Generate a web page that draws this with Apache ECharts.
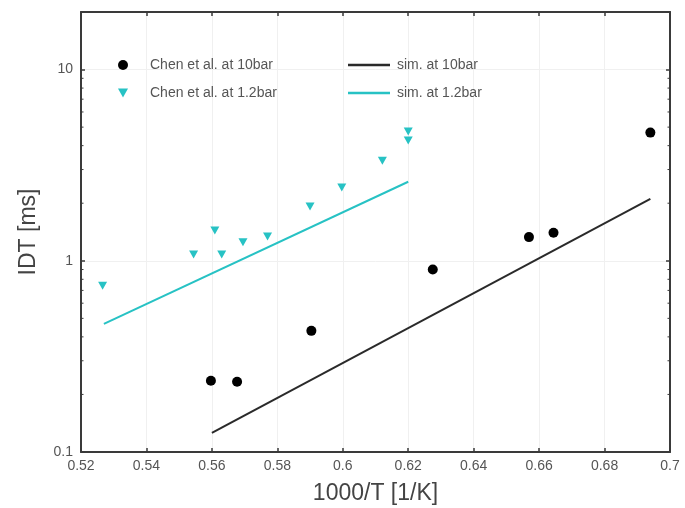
<!DOCTYPE html>
<html>
<head>
<meta charset="utf-8">
<script src="https://cdn.jsdelivr.net/npm/echarts@6/dist/echarts.min.js"></script>
<style>
  html, body { margin: 0; padding: 0; background: #fff; }
  #chart { width: 685px; height: 508px; }
</style>
</head>
<body>
<div id="chart"></div>
<script>
// Ignition delay times vs inverse temperature
const xTicks = [0.52, 0.54, 0.56, 0.58, 0.6, 0.62, 0.64, 0.66, 0.68, 0.7];
const yTickLabels = ['0.1', '1', '10'];

// Measurements, 10 bar
const chen10X = [0.5597, 0.5677, 0.5904, 0.6275, 0.6569, 0.6644, 0.6940];
const chen10Y = [0.236, 0.233, 0.43, 0.90, 1.33, 1.40, 4.68];

// Measurements, 1.2 bar
const chen12X = [0.5266, 0.5544, 0.5609, 0.5630, 0.5695, 0.5770, 0.5900, 0.5997, 0.6121, 0.6200, 0.6200];
const chen12Y = [0.74, 1.08, 1.44, 1.08, 1.25, 1.34, 1.92, 2.42, 3.34, 4.74, 4.25];

// Simulation results
const sim10X = [0.560, 0.694];
const sim10Y = [0.126, 2.11];
const sim12X = [0.527, 0.620];
const sim12Y = [0.468, 2.59];

// Minor tick positions on the logarithmic axis
const minorTickVals = [0.2, 0.3, 0.4, 0.5, 0.6, 0.7, 0.8, 0.9, 2, 3, 4, 5, 6, 7, 8, 9];

const X_MIN = 0.52, X_MAX = 0.7, Y_MIN = 0.1, Y_MAX = 20;
const CYAN = '#27c2c4';
const AXIS_COLOR = '#3a3a3a';
const FONT = 'Liberation Sans, Arial, sans-serif';
const DOWN_TRIANGLE = 'path://M0,0L10,0L5,9Z';

const zip = (xs, ys) => xs.map((x, i) => [x, ys[i]]);

const chart = echarts.init(document.getElementById('chart'), null, { renderer: 'canvas' });

const xAxisBase = {
  type: 'value', min: X_MIN, max: X_MAX, interval: 0.02,
  axisLine: { show: true, onZero: false, lineStyle: { color: AXIS_COLOR, width: 2 } },
  axisTick: { show: true, inside: true, length: 4, lineStyle: { color: AXIS_COLOR, width: 1.5 } }
};
const yAxisBase = {
  type: 'log', logBase: 10, min: Y_MIN, max: Y_MAX,
  axisLine: { show: true, lineStyle: { color: AXIS_COLOR, width: 2 } },
  axisTick: { show: true, inside: true, length: 4, lineStyle: { color: AXIS_COLOR, width: 1.5 } }
};

chart.setOption({
  animation: false,
  backgroundColor: '#fff',
  textStyle: { fontFamily: FONT },
  grid: { left: 81, right: 15, top: 12, bottom: 56, containLabel: false, outerBoundsMode: 'none' },
  legend: [
    {
      data: [
        { name: 'Chen et al. at 10bar', icon: 'circle' },
        { name: 'Chen et al. at 1.2bar', icon: DOWN_TRIANGLE }
      ],
      orient: 'vertical', left: 113, top: 53,
      itemWidth: 10, itemHeight: 10, itemGap: 14,
      textStyle: { color: '#555', fontSize: 14, fontFamily: FONT, padding: [0, 0, 0, 17] }
    },
    {
      data: [
        { name: 'sim. at 10bar', icon: 'rect' },
        { name: 'sim. at 1.2bar', icon: 'rect' }
      ],
      orient: 'vertical', left: 343, top: 53,
      itemWidth: 42, itemHeight: 2.5, itemGap: 14,
      textStyle: { color: '#555', fontSize: 14, fontFamily: FONT, padding: [0, 0, 0, 2] }
    }
  ],
  xAxis: [
    Object.assign({}, xAxisBase, {
      position: 'bottom',
      name: '1000/T [1/K]', nameLocation: 'middle', nameGap: 30,
      nameTextStyle: { color: '#444', fontSize: 23, fontFamily: FONT },
      axisLabel: { color: '#555', fontSize: 14, margin: 7, fontFamily: FONT,
        formatter: v => { const s = xTicks.find(t => Math.abs(t - v) < 1e-6); return s === undefined ? '' : String(s); } },
      splitLine: { show: true, lineStyle: { color: '#f0f0f0', width: 1 } }
    }),
    Object.assign({}, xAxisBase, {
      position: 'top',
      axisLabel: { show: false },
      splitLine: { show: false }
    })
  ],
  yAxis: [
    Object.assign({}, yAxisBase, {
      position: 'left',
      name: 'IDT [ms]', nameLocation: 'middle', nameGap: 41,
      nameTextStyle: { color: '#444', fontSize: 23, fontFamily: FONT },
      axisLabel: { color: '#555', fontSize: 14, margin: 8, fontFamily: FONT,
        showMaxLabel: false,
        formatter: v => { const s = yTickLabels.find(t => Math.abs(Number(t) - v) / v < 1e-6); return s === undefined ? '' : s; } },
      splitLine: { show: true, lineStyle: { color: '#f0f0f0', width: 1 } }
    }),
    Object.assign({}, yAxisBase, {
      position: 'right',
      axisLabel: { show: false },
      splitLine: { show: false }
    })
  ],
  series: [
    {
      // minor ticks on both vertical axes
      type: 'custom', silent: true, legendHoverLink: false, z: 5,
      data: minorTickVals.map(v => [X_MIN, v]),
      renderItem: (params, api) => {
        const v = api.value(1);
        const pl = api.coord([X_MIN, v]);
        const pr = api.coord([X_MAX, v]);
        const st = { stroke: AXIS_COLOR, lineWidth: 1 };
        return {
          type: 'group',
          children: [
            { type: 'line', shape: { x1: pl[0], y1: pl[1], x2: pl[0] + 2.5, y2: pl[1] }, style: st },
            { type: 'line', shape: { x1: pr[0], y1: pr[1], x2: pr[0] - 2.5, y2: pr[1] }, style: st }
          ]
        };
      }
    },
    {
      name: 'sim. at 10bar', type: 'line', symbol: 'none',
      data: zip(sim10X, sim10Y),
      lineStyle: { color: '#2a2a2a', width: 2 }, itemStyle: { color: '#2a2a2a' }, z: 3
    },
    {
      name: 'sim. at 1.2bar', type: 'line', symbol: 'none',
      data: zip(sim12X, sim12Y),
      lineStyle: { color: CYAN, width: 2 }, itemStyle: { color: CYAN }, z: 3
    },
    {
      name: 'Chen et al. at 10bar', type: 'scatter', symbol: 'circle', symbolSize: 10,
      data: zip(chen10X, chen10Y),
      itemStyle: { color: '#000', opacity: 1 }, z: 4
    },
    {
      name: 'Chen et al. at 1.2bar', type: 'scatter', symbol: 'triangle', symbolRotate: 180, symbolSize: [9, 8],
      data: zip(chen12X, chen12Y),
      itemStyle: { color: CYAN, opacity: 1 }, z: 4
    }
  ]
});
</script>
</body>
</html>
